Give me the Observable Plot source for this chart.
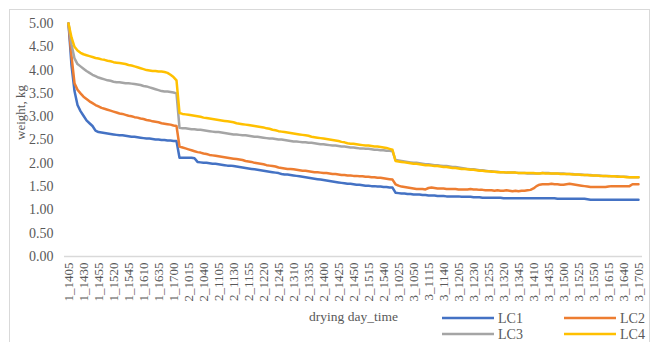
<!DOCTYPE html>
<html>
<head>
<meta charset="utf-8">
<script src="https://cdn.jsdelivr.net/npm/d3@7"></script>
<script src="https://cdn.jsdelivr.net/npm/@observablehq/plot@0.6"></script>
<style>
  html, body { margin: 0; padding: 0; background: #fff; }
  #chart { width: 658px; height: 342px; overflow: hidden; }
  #chart svg text { font-family: "Liberation Serif", "Times New Roman", serif; }
</style>
</head>
<body>
<div id="chart"></div>
<script>
// ---- Data ----
// drying days with first and last reading time (readings every 5 minutes)
const dayRanges = [[1, "1405", "1705"], [2, "1000", "1555"], [3, "1020", "1705"]];
const series = ["LC1", "LC2", "LC3", "LC4"];
const colors = ["#4472C4", "#ED7D31", "#A5A5A5", "#FFC000"];
const yTicks = [0, 0.5, 1, 1.5, 2, 2.5, 3, 3.5, 4, 4.5, 5];

const LC1 = [
  5.00,4.10,3.55,3.25,3.12,3.02,2.92,2.86,2.80,2.70, 2.67,2.66,2.65,2.64,2.63,2.62,2.61,2.60,2.60,2.59,
  2.58,2.57,2.57,2.56,2.55,2.54,2.53,2.53,2.52,2.51, 2.51,2.50,2.50,2.49,2.49,2.48,2.48,
  2.12,2.12,2.12,2.12,2.12,2.11,2.03,2.02,2.01,2.01, 2.00,1.99,1.99,1.98,1.97,1.96,1.95,1.95,1.94,1.93,
  1.92,1.91,1.90,1.89,1.88,1.87,1.86,1.85,1.84,1.83, 1.82,1.81,1.80,1.79,1.77,1.76,1.76,1.75,1.74,1.73,
  1.72,1.71,1.70,1.69,1.68,1.67,1.66,1.65,1.64,1.63, 1.62,1.61,1.60,1.59,1.58,1.57,1.56,1.56,1.55,1.54,
  1.54,1.53,1.52,1.52,1.51,1.51,1.50,1.50,1.49,1.49, 1.48,1.48,
  1.37,1.36,1.35,1.35,1.34,1.34,1.33,1.33,1.33,1.32, 1.32,1.31,1.31,1.31,1.30,1.30,1.30,1.29,1.29,1.29,
  1.29,1.29,1.28,1.28,1.28,1.28,1.27,1.27,1.27,1.26, 1.26,1.26,1.26,1.26,1.26,1.26,1.25,1.25,1.25,1.25,
  1.25,1.25,1.25,1.25,1.25,1.25,1.25,1.25,1.25,1.25, 1.25,1.25,1.25,1.25,1.24,1.24,1.24,1.24,1.24,1.24,
  1.24,1.24,1.24,1.24,1.23,1.22,1.22,1.22,1.22,1.22, 1.22,1.22,1.22,1.22,1.22,1.22,1.22,1.22,1.22,1.22,
  1.22,1.22
];
const LC2 = [
  5.00,4.30,3.72,3.58,3.50,3.43,3.38,3.33,3.29,3.25, 3.22,3.19,3.17,3.15,3.13,3.11,3.09,3.07,3.06,3.04,
  3.02,3.01,2.99,2.98,2.96,2.95,2.93,2.92,2.90,2.89, 2.88,2.86,2.85,2.84,2.83,2.81,2.80,
  2.36,2.34,2.32,2.30,2.28,2.26,2.24,2.23,2.21,2.20, 2.18,2.17,2.16,2.15,2.14,2.13,2.12,2.11,2.10,2.09,
  2.08,2.07,2.05,2.04,2.03,2.01,2.00,1.99,1.98,1.96, 1.95,1.94,1.93,1.91,1.90,1.89,1.88,1.88,1.87,1.86,
  1.85,1.84,1.84,1.83,1.82,1.81,1.81,1.80,1.79,1.79, 1.78,1.77,1.77,1.76,1.75,1.75,1.74,1.74,1.73,1.73,
  1.72,1.72,1.71,1.71,1.70,1.70,1.69,1.69,1.68,1.67, 1.66,1.65,
  1.55,1.52,1.50,1.49,1.48,1.47,1.46,1.45,1.45,1.45, 1.44,1.47,1.48,1.47,1.46,1.46,1.46,1.45,1.45,1.45,
  1.45,1.44,1.44,1.44,1.44,1.45,1.44,1.44,1.43,1.43, 1.42,1.42,1.42,1.41,1.42,1.41,1.41,1.42,1.41,1.40,
  1.41,1.40,1.41,1.41,1.42,1.43,1.46,1.51,1.54,1.55, 1.55,1.55,1.56,1.55,1.55,1.54,1.54,1.55,1.56,1.55,
  1.54,1.53,1.52,1.51,1.50,1.49,1.49,1.49,1.49,1.49, 1.49,1.50,1.51,1.51,1.51,1.51,1.51,1.51,1.51,1.55,
  1.55,1.55
];
const LC3 = [
  5.00,4.55,4.25,4.13,4.08,4.03,3.98,3.94,3.90,3.87, 3.84,3.82,3.80,3.78,3.77,3.75,3.74,3.74,3.73,3.72,
  3.72,3.71,3.70,3.69,3.68,3.66,3.65,3.63,3.61,3.59, 3.57,3.55,3.54,3.54,3.53,3.52,3.50,
  2.76,2.75,2.75,2.74,2.73,2.73,2.72,2.72,2.71,2.70, 2.69,2.68,2.67,2.67,2.66,2.65,2.64,2.63,2.62,2.62,
  2.61,2.60,2.60,2.59,2.58,2.57,2.57,2.56,2.55,2.54, 2.53,2.53,2.52,2.51,2.51,2.50,2.49,2.48,2.47,2.47,
  2.46,2.45,2.45,2.44,2.44,2.43,2.42,2.41,2.41,2.40, 2.39,2.38,2.38,2.37,2.36,2.36,2.35,2.34,2.34,2.33,
  2.32,2.32,2.31,2.31,2.30,2.29,2.29,2.28,2.28,2.27, 2.27,2.26,
  2.07,2.06,2.05,2.04,2.03,2.02,2.01,2.01,2.00,1.99, 1.98,1.98,1.97,1.96,1.96,1.95,1.94,1.94,1.93,1.92,
  1.92,1.91,1.90,1.89,1.88,1.87,1.87,1.86,1.85,1.85, 1.84,1.83,1.83,1.82,1.82,1.81,1.81,1.80,1.80,1.80,
  1.80,1.79,1.79,1.79,1.78,1.78,1.78,1.78,1.78,1.79, 1.79,1.79,1.78,1.78,1.78,1.78,1.78,1.77,1.77,1.77,
  1.76,1.76,1.76,1.75,1.75,1.75,1.74,1.74,1.74,1.73, 1.73,1.73,1.72,1.72,1.72,1.71,1.71,1.71,1.70,1.70,
  1.70,1.70
];
const LC4 = [
  5.00,4.70,4.50,4.42,4.37,4.34,4.32,4.30,4.28,4.26, 4.25,4.23,4.22,4.20,4.19,4.17,4.16,4.15,4.14,4.13,
  4.11,4.10,4.08,4.06,4.04,4.02,4.00,3.99,3.98,3.98, 3.97,3.97,3.96,3.94,3.90,3.85,3.78,
  3.08,3.06,3.05,3.04,3.03,3.02,3.01,3.00,2.98,2.97, 2.96,2.95,2.94,2.93,2.92,2.91,2.90,2.89,2.88,2.86,
  2.85,2.84,2.83,2.82,2.81,2.80,2.79,2.78,2.77,2.75, 2.74,2.72,2.71,2.69,2.68,2.67,2.66,2.65,2.64,2.63,
  2.62,2.61,2.60,2.59,2.57,2.56,2.55,2.54,2.53,2.52, 2.51,2.50,2.49,2.48,2.46,2.45,2.43,2.42,2.42,2.41,
  2.40,2.39,2.38,2.38,2.37,2.36,2.36,2.35,2.34,2.33, 2.31,2.29,
  2.05,2.04,2.03,2.02,2.01,2.00,1.99,1.99,1.98,1.97, 1.96,1.96,1.95,1.94,1.94,1.93,1.92,1.92,1.91,1.90,
  1.90,1.89,1.88,1.88,1.87,1.86,1.86,1.85,1.84,1.84, 1.83,1.83,1.82,1.82,1.81,1.81,1.81,1.80,1.80,1.80,
  1.80,1.79,1.79,1.79,1.79,1.79,1.79,1.78,1.78,1.79, 1.78,1.78,1.78,1.78,1.78,1.77,1.77,1.77,1.77,1.76,
  1.76,1.76,1.75,1.75,1.75,1.74,1.74,1.74,1.73,1.73, 1.73,1.72,1.72,1.72,1.71,1.71,1.71,1.70,1.70,1.70,
  1.70,1.70
];
const values = [LC1, LC2, LC3, LC4];

// ---- Category labels "day_HHMM" ----
function timesBetween(start, end) {
  const toMin = s => +s.slice(0, 2) * 60 + +s.slice(2);
  const out = [];
  for (let m = toMin(start); m <= toMin(end); m += 5) {
    out.push(String(Math.floor(m / 60)).padStart(2, "0") + String(m % 60).padStart(2, "0"));
  }
  return out;
}
const categories = dayRanges.flatMap(([d, s, e]) => timesBetween(s, e).map(t => `${d}_${t}`));
const xTickLabels = categories.filter((d, i) => i % 5 === 0);

const rows = series.flatMap((s, k) => values[k].map((v, i) => ({t: categories[i], v, s})));

const FONT = "'Liberation Serif', 'Times New Roman', serif";

const chart = Plot.plot({
  width: 658,
  height: 342,
  marginLeft: 64,
  marginRight: 16,
  marginTop: 23,
  marginBottom: 86,
  style: {fontFamily: FONT, background: "white", color: "#595959"},
  x: {type: "point", domain: categories, padding: 0.5},
  y: {domain: [0, 5]},
  color: {domain: series, range: colors},
  marks: [
    Plot.ruleY([0], {stroke: "#d9d9d9", strokeWidth: 1.5}),
    Plot.axisY({ticks: yTicks, tickFormat: d => d.toFixed(2), tickSize: 0, tickPadding: 11, fontSize: 14, label: null}),
    Plot.axisX({ticks: xTickLabels, tickSize: 0, tickPadding: 6, tickRotate: -90, fontSize: 13, label: null}),
    Plot.line(rows, {x: "t", y: "v", stroke: "s", strokeWidth: 2.5, strokeLinejoin: "round"}),
    Plot.text(["weight, kg"], {frameAnchor: "left", dx: -44, rotate: -90, fontSize: 13, fill: "#595959"}),
    Plot.text(["drying day_time"], {frameAnchor: "bottom", dy: 64, fontSize: 13.5, fill: "#595959"})
  ]
});

const svg = d3.select(chart);
// outer chart-area border
svg.append("rect").attr("x", 9.5).attr("y", 9.5).attr("width", 640).attr("height", 345)
  .attr("fill", "none").attr("stroke", "#d9d9d9").attr("stroke-width", 1);

// legend (two rows, two columns)
const legendPos = [[442, 318], [564, 318], [442, 334], [564, 334]];
const lg = svg.append("g").attr("font-family", FONT).attr("font-size", 14).attr("text-anchor", "start");
series.forEach((s, k) => {
  const [lx, ly] = legendPos[k];
  lg.append("line").attr("x1", lx).attr("x2", lx + 52).attr("y1", ly).attr("y2", ly)
    .attr("stroke", colors[k]).attr("stroke-width", 2.5);
  lg.append("text").attr("x", lx + 56).attr("y", ly).attr("dy", "0.35em")
    .attr("text-anchor", "start").attr("fill", "#595959").text(s);
});

svg.selectAll("text").style("font-family", FONT);

document.getElementById("chart").appendChild(chart);
</script>
</body>
</html>
